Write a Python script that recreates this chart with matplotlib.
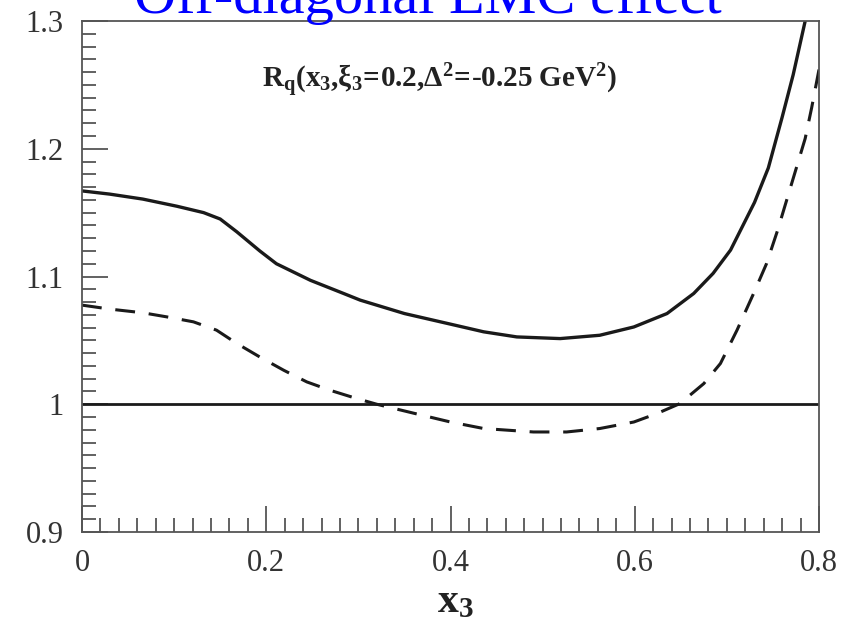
import matplotlib
matplotlib.use("Agg")
import matplotlib.pyplot as plt
from matplotlib.ticker import MultipleLocator

plt.rcParams['font.family'] = ['Liberation Serif', 'DejaVu Serif']
plt.rcParams['mathtext.fontset'] = 'custom'
plt.rcParams['mathtext.rm'] = 'Liberation Serif'
plt.rcParams['mathtext.it'] = 'Liberation Serif:italic'
plt.rcParams['mathtext.bf'] = 'Liberation Serif:bold'

title = "Off-diagonal EMC effect"
annotation = r"$\mathbf{R_q(x_3{,}ξ_3\!=\!0.2{,}Δ^2\!=\!\text{-}0.25\ GeV^2)}$"
xlabel = r"$\mathbf{x_3}$"

x_solid = [0.000, 0.030, 0.066, 0.103, 0.132, 0.150, 0.168, 0.193, 0.211, 0.248,
           0.284, 0.302, 0.350, 0.400, 0.436, 0.472, 0.519, 0.562, 0.599, 0.635,
           0.664, 0.685, 0.704, 0.730, 0.745, 0.760, 0.772, 0.785, 0.792]
y_solid = [1.167, 1.1645, 1.1606, 1.155, 1.150, 1.145, 1.135, 1.120, 1.110, 1.097,
           1.0867, 1.0815, 1.071, 1.0627, 1.0567, 1.0527, 1.0514, 1.054, 1.0605, 1.071,
           1.0867, 1.1024, 1.1207, 1.158, 1.185, 1.2247, 1.258, 1.300, 1.32]

x_dashed = [0.000, 0.030, 0.066, 0.092, 0.121, 0.146, 0.168, 0.193, 0.219, 0.244,
            0.269, 0.298, 0.320, 0.360, 0.400, 0.436, 0.490, 0.526, 0.562, 0.599,
            0.624, 0.649, 0.675, 0.693, 0.711, 0.729, 0.743, 0.755, 0.770, 0.785,
            0.792, 0.800]
y_dashed = [1.0776, 1.0745, 1.0716, 1.0684, 1.0645, 1.058, 1.0476, 1.037, 1.0266, 1.0175,
            1.011, 1.0045, 1.000, 0.993, 0.9861, 0.981, 0.9783, 0.9783, 0.981, 0.9861,
            0.9927, 1.0005, 1.0162, 1.0319, 1.058, 1.0867, 1.110, 1.136, 1.172, 1.208,
            1.232, 1.262]

x_ref = [0.0, 0.8]
y_ref = [1.0, 1.0]

fig = plt.figure(figsize=(8.51, 6.26), dpi=100)
ax = fig.add_axes([82/851, 1-532/626, (819-82)/851, (532-21)/626])

ax.plot(x_ref, y_ref, color='#1a1a1a', lw=2.0, solid_capstyle='butt')
ax.plot(x_solid, y_solid, color='#1a1a1a', lw=2.4)
ax.plot(x_dashed, y_dashed, color='#1a1a1a', lw=2.2, dashes=(6.5, 4.5))

ax.set_xlim(0, 0.8)
ax.set_ylim(0.9, 1.3)

axcol = '#555555'
for s in ax.spines.values():
    s.set_color(axcol)
    s.set_linewidth(1.3)

ax.xaxis.set_major_locator(MultipleLocator(0.2))
ax.xaxis.set_minor_locator(MultipleLocator(0.02))
ax.yaxis.set_major_locator(MultipleLocator(0.1))
ax.yaxis.set_minor_locator(MultipleLocator(0.01))
ax.tick_params(which='both', direction='in', color=axcol, width=1.3,
               top=False, right=False, labelsize=22, labelcolor='#333333')
ax.tick_params(which='major', length=19)
ax.tick_params(which='minor', length=10)
ax.tick_params(axis='y', which='major', pad=13)
ax.tick_params(axis='x', which='major', pad=12)
ax.set_xticks([0, 0.2, 0.4, 0.6, 0.8])
ax.set_xticklabels(['0', '0.2', '0.4', '0.6', '0.8'])
ax.set_yticks([0.9, 1.0, 1.1, 1.2, 1.3])
ax.set_yticklabels(['0.9', '1', '1.1', '1.2', '1.3'])

ax.text(262/851, 1-88/626, annotation, transform=fig.transFigure,
        fontsize=21, ha='left', va='baseline', color='#222222')

fig.text(455/851, 1-612/626, xlabel, fontsize=30, ha='center', va='baseline',
         color='#222222')

fig.text(428/851, 1-13/626, title, fontsize=42, color='#0000ff',
         ha='center', va='baseline')

fig.savefig('out.png', dpi=100)
